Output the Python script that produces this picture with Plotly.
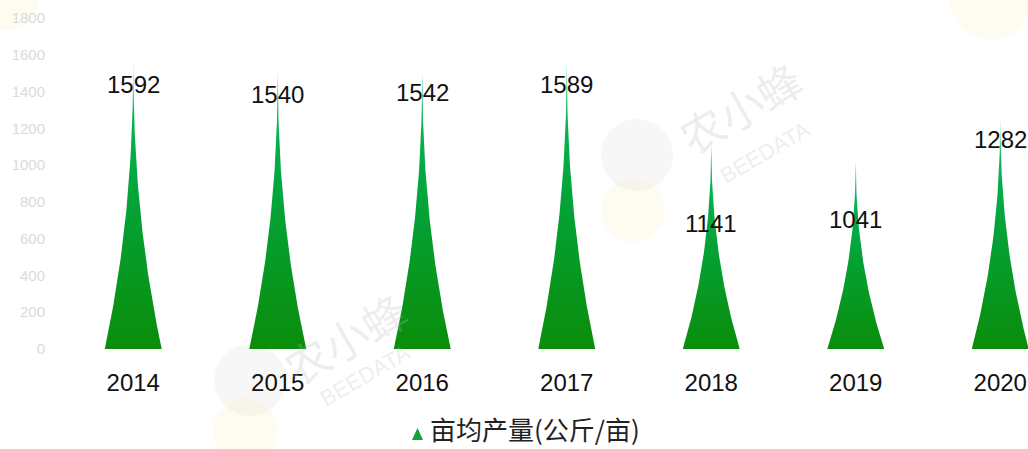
import numpy as np
import plotly.graph_objects as go

years = ["2014", "2015", "2016", "2017", "2018", "2019", "2020"]
yield_per_mu = [1592, 1540, 1542, 1589, 1141, 1041, 1282]
series_name = "亩均产量(公斤/亩)"
y_ticks = [0, 200, 400, 600, 800, 1000, 1200, 1400, 1600, 1800]
# label vertical offsets (px) below bar tip, as seen in the reference
label_shift = [-28, -29, -27, -28, -84, -62, -26]

W, H = 1028, 449
L, T = 61, 18
B = H - 349
PW, PH = W - L, H - T - B
HALF_W = 0.197   # half base width in category units
POW = 2.2        # concavity of the spike sides

colorscale = [[0.0, "#0a8d0a"], [0.45, "#04a033"], [0.8, "#06b352"],
              [0.93, "#3cc979"], [1.0, "#f0faf3"]]


def px(x):
    return (x - L) / PW


def py(y):
    return (H - B - y) / PH


fig = go.Figure()

# faint watermarks (drawn first / below)
for (cx, cy, r, col) in [(637, 155, 36, "rgba(205,205,205,0.16)"),
                         (633, 210, 32, "rgba(250,235,170,0.16)"),
                         (250, 380, 36, "rgba(205,205,205,0.16)"),
                         (245, 430, 32, "rgba(250,235,170,0.16)"),
                         (990, 0, 40, "rgba(250,235,170,0.18)"),
                         (8, 0, 30, "rgba(250,235,170,0.18)")]:
    fig.add_shape(type="circle", xref="paper", yref="paper", layer="below",
                  x0=px(cx - r), x1=px(cx + r), y0=py(cy + r), y1=py(cy - r),
                  line=dict(width=0), fillcolor=col)
for (tx, ty, bx, by) in [(740, 107, 765, 152), (345, 338, 365, 375)]:
    fig.add_annotation(xref="paper", yref="paper", x=px(tx), y=py(ty), text="农小蜂",
                       showarrow=False, textangle=-30, xanchor="center", yanchor="middle",
                       font=dict(family="Noto Sans CJK SC", size=44,
                                 color="rgba(185,185,185,0.25)"))
    fig.add_annotation(xref="paper", yref="paper", x=px(bx), y=py(by), text="BEEDATA",
                       showarrow=False, textangle=-30, xanchor="center", yanchor="middle",
                       font=dict(family="Liberation Sans", size=22,
                                 color="rgba(185,185,185,0.25)"))

t = np.linspace(0, 1, 80)
for i, (yr, v) in enumerate(zip(years, yield_per_mu)):
    hw = HALF_W * (1 - t) ** POW
    xs = np.concatenate([i - hw, (i + hw)[::-1]])
    ys = np.concatenate([t * v, (t * v)[::-1]])
    fig.add_trace(go.Scatter(
        x=xs, y=ys, mode="lines", fill="toself",
        line=dict(width=0, color="rgba(0,0,0,0)"),
        fillgradient=dict(type="vertical", colorscale=colorscale, start=0, stop=v),
        showlegend=False, hoverinfo="skip"))
    fig.add_annotation(x=i, y=v, text=str(v), showarrow=False, yshift=label_shift[i],
                       font=dict(family="Liberation Sans, Arial", size=24, color="#111"))

# legend (drawn manually so it doesn't move the margins)
fig.add_shape(type="path", xref="paper", yref="paper",
              path=f"M {px(412)} {py(440)} L {px(423)} {py(440)} L {px(417.5)} {py(428)} Z",
              line=dict(width=0), fillcolor="#12a33a")
fig.add_annotation(xref="paper", yref="paper", x=px(428), y=py(448.5), xanchor="left",
                   yanchor="bottom", text=series_name, showarrow=False,
                   font=dict(family="Noto Sans CJK SC", size=26, color="#222"))

fig.update_layout(
    width=W, height=H,
    margin=dict(l=L, r=0, t=T, b=B),
    paper_bgcolor="white", plot_bgcolor="white",
    showlegend=False,
    xaxis=dict(range=[-0.5, -0.5 + PW / 144.5], tickmode="array",
               tickvals=list(range(len(years))), automargin=False,
               ticktext=years, showgrid=False, zeroline=False, showline=False, ticks="",
               ticklabelstandoff=17,
               tickfont=dict(family="Liberation Sans, Arial", size=24, color="#111")),
    yaxis=dict(range=[0, 1800], tickvals=y_ticks, showgrid=False, zeroline=False,
               showline=False, ticks="", ticklabelstandoff=15, automargin=False,
               tickfont=dict(family="Liberation Sans, Arial", size=15, color="#dadada")),
)

fig.write_html("out.html", config={"displayModeBar": False},
               post_script="document.body.style.margin='0';document.body.style.overflow='hidden';")
